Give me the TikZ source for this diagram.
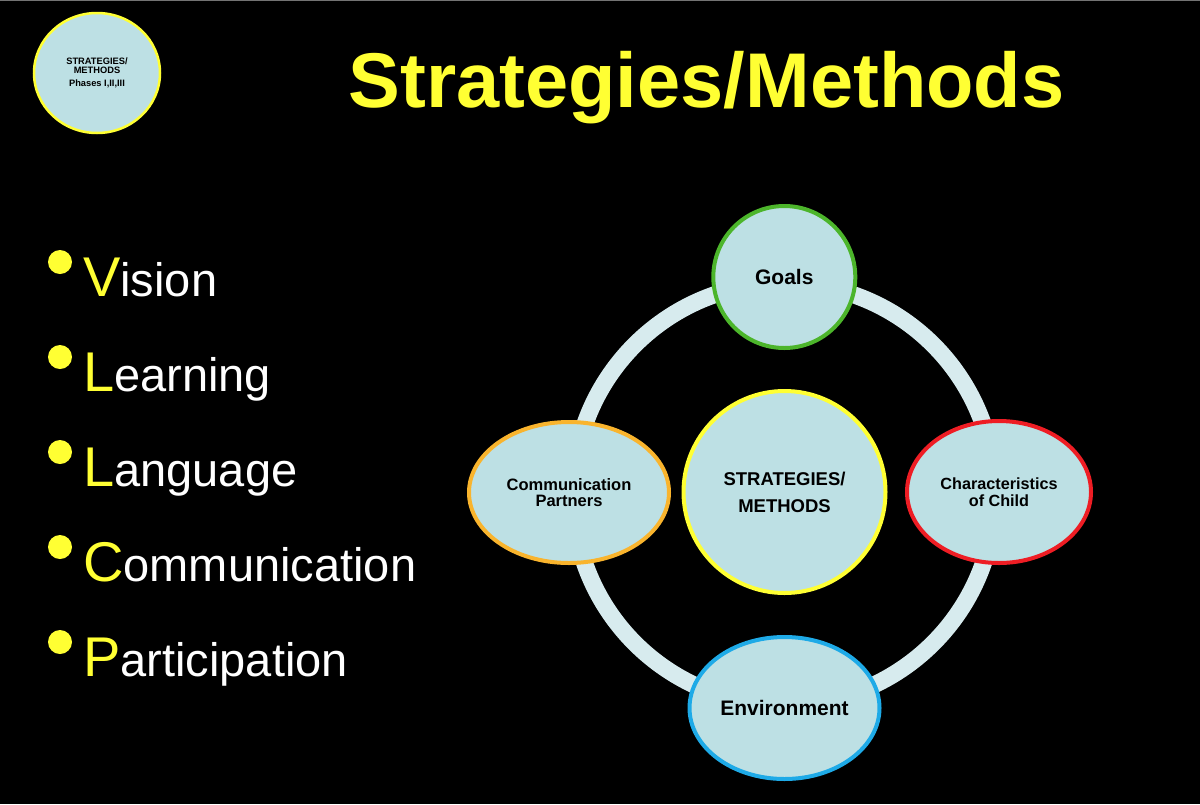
\documentclass[tikz,border=0pt]{standalone}
\usepackage{fontspec}
\setmainfont{Liberation Sans}
\usetikzlibrary{shapes.geometric}
\definecolor{slideyellow}{HTML}{FFFF33}
\definecolor{bubblefill}{HTML}{BDE0E4}
\definecolor{ringcol}{HTML}{D7EBEE}
\definecolor{goalgreen}{HTML}{4CB52B}
\definecolor{childred}{HTML}{EE1D24}
\definecolor{partnerorange}{HTML}{F9B42D}
\definecolor{envblue}{HTML}{1EAAE7}
\newcommand{\pxfont}[1]{\fontsize{#1}{#1}\selectfont}
\begin{document}
\begin{tikzpicture}[x=1pt,y=-1pt,
  bubble/.style={ellipse, draw, line width=4pt, fill=bubblefill, inner sep=0pt,
    text=black, align=center},
  ringline/.style={draw=ringcol, line width=17pt},
  dot/.style={circle, fill=slideyellow, minimum size=24pt, inner sep=0pt},
  itemtext/.style={anchor=base west, inner sep=0pt, text=white, font=\pxfont{47}}
]
\path[use as bounding box, fill=black] (0,0) rectangle (1200,804);
\fill[black!55] (0,0) rectangle (1200,1.2);

% title
\node[anchor=base, inner sep=0pt, text=slideyellow, font=\bfseries\pxfont{77.6}]
  (title) at (706.5,107) {Strategies/Methods};

% badge
\node[ellipse, draw=slideyellow, line width=2.5pt, fill=bubblefill,
  minimum width=126pt, minimum height=120pt, inner sep=0pt, align=center,
  font=\bfseries\fontsize{9.3}{8.8}\selectfont] (badge) at (97,73)
  {STRATEGIES/\\METHODS\\[3.9pt]Phases I,II,III};

% bullet list
\foreach \itemhead/\itemtail/\yy [count=\k] in
  {V/ision/296, L/earning/391, L/anguage/486, C/ommunication/581, P/articipation/676}{
  \node[dot] (dot\k) at (60,\yy-34) {};
  \node[itemtext] (item\k) at (83,\yy)
    {\textcolor{slideyellow}{\pxfont{56}\itemhead}\itemtail};
}

% ring
\coordinate (ringc) at (784,494);
\draw[ringline] (ringc) circle[radius=211pt];

% nodes
\node[bubble, draw=goalgreen, minimum width=142pt, minimum height=142pt,
  font=\bfseries\pxfont{21}] (goals) at (784.3,277) {Goals};
\node[bubble, draw=slideyellow, minimum width=202pt, minimum height=202pt,
  font=\bfseries\fontsize{18.5}{27}\selectfont] (centre) at (784.5,492)
  {STRATEGIES/\\METHODS};
\node[bubble, draw=partnerorange, minimum width=200pt, minimum height=141pt,
  font=\bfseries\fontsize{16.5}{16.5}\selectfont] (partners) at (569,492.5)
  {Communication\\Partners};
\node[bubble, draw=childred, minimum width=184pt, minimum height=142pt,
  font=\bfseries\fontsize{16.2}{16.5}\selectfont] (child) at (999,492)
  {Characteristics\\of Child};
\node[bubble, draw=envblue, minimum width=190pt, minimum height=142pt,
  font=\bfseries\pxfont{21}] (env) at (784.5,708) {Environment};
\end{tikzpicture}
\end{document}
